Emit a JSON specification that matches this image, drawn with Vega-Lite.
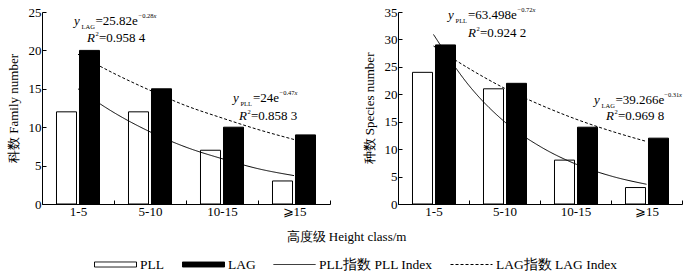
{
  "$schema": "https://vega.github.io/schema/vega-lite/v6.json",
  "padding": {"left": 7, "top": 6, "right": 0, "bottom": 0},
  "background": "white",
  "spacing": 68,
  "bounds": "flush",
  "datasets": {
    "famBars": [
      {"cat": "1-5", "series": "PLL", "v": 12},
      {"cat": "1-5", "series": "LAG", "v": 20},
      {"cat": "5-10", "series": "PLL", "v": 12},
      {"cat": "5-10", "series": "LAG", "v": 15},
      {"cat": "10-15", "series": "PLL", "v": 7},
      {"cat": "10-15", "series": "LAG", "v": 10},
      {"cat": "⩾15", "series": "PLL", "v": 3},
      {"cat": "⩾15", "series": "LAG", "v": 9}
    ],
    "spBars": [
      {"cat": "1-5", "series": "PLL", "v": 24},
      {"cat": "1-5", "series": "LAG", "v": 29},
      {"cat": "5-10", "series": "PLL", "v": 21},
      {"cat": "5-10", "series": "LAG", "v": 22},
      {"cat": "10-15", "series": "PLL", "v": 8},
      {"cat": "10-15", "series": "LAG", "v": 14},
      {"cat": "⩾15", "series": "PLL", "v": 3},
      {"cat": "⩾15", "series": "LAG", "v": 12}
    ],
    "famCurves": [
      {"series": "PLL指数 PLL Index", "pos": 0.5, "v": 15.0},
      {"series": "PLL指数 PLL Index", "pos": 1.0, "v": 11.9},
      {"series": "PLL指数 PLL Index", "pos": 1.5, "v": 9.4},
      {"series": "PLL指数 PLL Index", "pos": 2.0, "v": 7.4},
      {"series": "PLL指数 PLL Index", "pos": 2.5, "v": 5.9},
      {"series": "PLL指数 PLL Index", "pos": 3.0, "v": 4.6},
      {"series": "PLL指数 PLL Index", "pos": 3.5, "v": 3.7},
      {"series": "LAG指数 LAG Index", "pos": 0.5, "v": 19.5},
      {"series": "LAG指数 LAG Index", "pos": 1.0, "v": 17.0},
      {"series": "LAG指数 LAG Index", "pos": 1.5, "v": 14.8},
      {"series": "LAG指数 LAG Index", "pos": 2.0, "v": 12.8},
      {"series": "LAG指数 LAG Index", "pos": 2.5, "v": 11.2},
      {"series": "LAG指数 LAG Index", "pos": 3.0, "v": 9.7},
      {"series": "LAG指数 LAG Index", "pos": 3.5, "v": 8.4}
    ],
    "spCurves": [
      {"series": "PLL指数 PLL Index", "pos": 0.5, "v": 30.9},
      {"series": "PLL指数 PLL Index", "pos": 1.0, "v": 21.6},
      {"series": "PLL指数 PLL Index", "pos": 1.5, "v": 15.0},
      {"series": "PLL指数 PLL Index", "pos": 2.0, "v": 10.5},
      {"series": "PLL指数 PLL Index", "pos": 2.5, "v": 7.3},
      {"series": "PLL指数 PLL Index", "pos": 3.0, "v": 5.1},
      {"series": "PLL指数 PLL Index", "pos": 3.5, "v": 3.6},
      {"series": "LAG指数 LAG Index", "pos": 0.5, "v": 28.8},
      {"series": "LAG指数 LAG Index", "pos": 1.0, "v": 24.7},
      {"series": "LAG指数 LAG Index", "pos": 1.5, "v": 21.1},
      {"series": "LAG指数 LAG Index", "pos": 2.0, "v": 18.1},
      {"series": "LAG指数 LAG Index", "pos": 2.5, "v": 15.5},
      {"series": "LAG指数 LAG Index", "pos": 3.0, "v": 13.3},
      {"series": "LAG指数 LAG Index", "pos": 3.5, "v": 11.4}
    ],
    "famText": [
      {"k": "mi", "pos": 0.444, "v": 23.27, "t": "y"},
      {"k": "mi", "pos": 0.625, "v": 21.1, "t": "R"},
      {"k": "mi", "pos": 2.653, "v": 13.26, "t": "y"},
      {"k": "mi", "pos": 2.736, "v": 10.96, "t": "R"},
      {"k": "m", "pos": 0.743, "v": 23.27, "t": "=25.82e"},
      {"k": "m", "pos": 0.792, "v": 21.1, "t": "=0.958 4"},
      {"k": "m", "pos": 2.931, "v": 13.26, "t": "=24e"},
      {"k": "m", "pos": 2.903, "v": 10.96, "t": "=0.858 3"},
      {"k": "s", "pos": 0.549, "v": 22.8, "t": "LAG"},
      {"k": "s", "pos": 1.340, "v": 24.18, "t": "−0.28"},
      {"k": "s", "pos": 0.743, "v": 21.9, "t": "2"},
      {"k": "s", "pos": 2.757, "v": 12.79, "t": "PLL"},
      {"k": "s", "pos": 3.299, "v": 14.17, "t": "−0.47"},
      {"k": "s", "pos": 2.854, "v": 11.76, "t": "2"},
      {"k": "si", "pos": 1.549, "v": 24.18, "t": "x"},
      {"k": "si", "pos": 3.507, "v": 14.17, "t": "x"}
    ],
    "spText": [
      {"k": "mi", "pos": 0.704, "v": 33.67, "t": "y"},
      {"k": "mi", "pos": 0.986, "v": 30.46, "t": "R"},
      {"k": "mi", "pos": 2.761, "v": 18.2, "t": "y"},
      {"k": "mi", "pos": 2.930, "v": 15.35, "t": "R"},
      {"k": "m", "pos": 0.986, "v": 33.67, "t": "=63.498e"},
      {"k": "m", "pos": 1.155, "v": 30.46, "t": "=0.924 2"},
      {"k": "m", "pos": 3.063, "v": 18.2, "t": "=39.266e"},
      {"k": "m", "pos": 3.099, "v": 15.35, "t": "=0.969 8"},
      {"k": "s", "pos": 0.810, "v": 33.0, "t": "PLL"},
      {"k": "s", "pos": 1.683, "v": 34.94, "t": "−0.72"},
      {"k": "s", "pos": 1.106, "v": 31.55, "t": "2"},
      {"k": "s", "pos": 2.866, "v": 17.53, "t": "LAG"},
      {"k": "s", "pos": 3.750, "v": 19.47, "t": "−0.31"},
      {"k": "s", "pos": 3.049, "v": 16.44, "t": "2"},
      {"k": "si", "pos": 1.894, "v": 34.94, "t": "x"},
      {"k": "si", "pos": 3.958, "v": 19.47, "t": "x"}
    ]
  },
  "hconcat": [
    {
      "width": 288,
      "height": 192,
      "encoding": {
        "y": {
          "field": "v", "type": "quantitative",
          "scale": {"domain": [0, 25], "nice": false},
          "axis": {"title": "科数 Family number", "values": [0, 5, 10, 15, 20, 25], "titlePadding": 8}
        }
      },
      "layer": [
        {
          "data": {"name": "famBars"},
          "mark": {"type": "bar", "stroke": "black", "strokeWidth": 1},
          "encoding": {
            "x": {
              "field": "cat", "type": "nominal",
              "scale": {"domain": ["1-5", "5-10", "10-15", "⩾15"], "paddingInner": 0, "paddingOuter": 0},
              "axis": {"title": "高度级  Height class/m", "titleX": 304, "titleY": 36, "titleAnchor": null, "titleAlign": "center", "titleBaseline": "alphabetic", "tickBand": "extent", "labelAngle": 0}
            },
            "xOffset": {"field": "series", "type": "nominal", "scale": {"domain": ["PLL", "LAG"], "paddingInner": 0.13, "paddingOuter": 0.63}},
            "color": {
              "field": "series", "type": "nominal",
              "scale": {"domain": ["PLL", "LAG", "PLL指数 PLL Index", "LAG指数 LAG Index"], "range": ["#ffffff", "#000000", "#000000", "#000000"]},
              "legend": {
                "title": null, "orient": "none", "legendX": 52, "legendY": 231, "direction": "horizontal",
                "symbolSize": 1764, "symbolStrokeWidth": 1, "symbolStrokeColor": "#000000", "symbolOpacity": 1,
                "symbolType": {"expr": "(datum.value === 'PLL' || datum.value === 'LAG') ? 'M-1,-0.12H1V0.12H-1Z' : 'M-1,0H1'"},
                "symbolDash": {"expr": "datum.value === 'LAG指数 LAG Index' ? [3, 2] : [1, 0]"},
                "labelOffset": 3, "columnPadding": 15,
                "labelFont": "Liberation Serif", "labelFontSize": 13.5, "labelColor": "black", "labelLimit": 300
              }
            }
          }
        },
        {
          "data": {"name": "famCurves"},
          "mark": {"type": "line", "interpolate": "monotone", "strokeWidth": 1, "color": "black"},
          "encoding": {
            "x": {"field": "pos", "type": "quantitative", "scale": {"domain": [0, 4], "nice": false, "zero": false}, "axis": null},
            "detail": {"field": "series", "type": "nominal"},
            "strokeDash": {"field": "series", "type": "nominal", "scale": {"domain": ["PLL指数 PLL Index", "LAG指数 LAG Index"], "range": [[1, 0], [3, 2]]}, "legend": null}
          }
        },
        {
          "data": {"name": "famText"},
          "transform": [{"filter": "datum.k === 'mi'"}],
          "mark": {"type": "text", "align": "left", "baseline": "alphabetic", "font": "Liberation Serif", "fontSize": 13, "fontStyle": "italic", "color": "black"},
          "encoding": {"x": {"field": "pos", "type": "quantitative", "scale": {"domain": [0, 4], "nice": false, "zero": false}, "axis": null}, "text": {"field": "t"}}
        },
        {
          "data": {"name": "famText"},
          "transform": [{"filter": "datum.k === 'm'"}],
          "mark": {"type": "text", "align": "left", "baseline": "alphabetic", "font": "Liberation Serif", "fontSize": 13, "color": "black"},
          "encoding": {"x": {"field": "pos", "type": "quantitative", "scale": {"domain": [0, 4], "nice": false, "zero": false}, "axis": null}, "text": {"field": "t"}}
        },
        {
          "data": {"name": "famText"},
          "transform": [{"filter": "datum.k === 's'"}],
          "mark": {"type": "text", "align": "left", "baseline": "alphabetic", "font": "Liberation Serif", "fontSize": 6.5, "color": "black"},
          "encoding": {"x": {"field": "pos", "type": "quantitative", "scale": {"domain": [0, 4], "nice": false, "zero": false}, "axis": null}, "text": {"field": "t"}}
        },
        {
          "data": {"name": "famText"},
          "transform": [{"filter": "datum.k === 'si'"}],
          "mark": {"type": "text", "align": "left", "baseline": "alphabetic", "font": "Liberation Serif", "fontSize": 6.5, "fontStyle": "italic", "color": "black"},
          "encoding": {"x": {"field": "pos", "type": "quantitative", "scale": {"domain": [0, 4], "nice": false, "zero": false}, "axis": null}, "text": {"field": "t"}}
        }
      ],
      "resolve": {"scale": {"x": "independent"}, "axis": {"x": "independent"}}
    },
    {
      "width": 284,
      "height": 192,
      "encoding": {
        "y": {
          "field": "v", "type": "quantitative",
          "scale": {"domain": [0, 35], "nice": false},
          "axis": {"title": "种数 Species number", "values": [0, 5, 10, 15, 20, 25, 30, 35], "titlePadding": 8}
        }
      },
      "layer": [
        {
          "data": {"name": "spBars"},
          "mark": {"type": "bar", "stroke": "black", "strokeWidth": 1},
          "encoding": {
            "x": {
              "field": "cat", "type": "nominal",
              "scale": {"domain": ["1-5", "5-10", "10-15", "⩾15"], "paddingInner": 0, "paddingOuter": 0},
              "axis": {"title": null, "tickBand": "extent", "labelAngle": 0}
            },
            "xOffset": {"field": "series", "type": "nominal", "scale": {"domain": ["PLL", "LAG"], "paddingInner": 0.13, "paddingOuter": 0.63}},
            "color": {
              "field": "series", "type": "nominal",
              "legend": {
                "title": null, "orient": "none", "legendX": 52, "legendY": 231, "direction": "horizontal",
                "symbolSize": 1764, "symbolStrokeWidth": 1, "symbolStrokeColor": "#000000", "symbolOpacity": 1,
                "symbolType": {"expr": "(datum.value === 'PLL' || datum.value === 'LAG') ? 'M-1,-0.12H1V0.12H-1Z' : 'M-1,0H1'"},
                "symbolDash": {"expr": "datum.value === 'LAG指数 LAG Index' ? [3, 2] : [1, 0]"},
                "labelOffset": 3, "columnPadding": 15,
                "labelFont": "Liberation Serif", "labelFontSize": 13.5, "labelColor": "black", "labelLimit": 300
              }
            }
          }
        },
        {
          "data": {"name": "spCurves"},
          "mark": {"type": "line", "interpolate": "monotone", "strokeWidth": 1, "color": "black"},
          "encoding": {
            "x": {"field": "pos", "type": "quantitative", "scale": {"domain": [0, 4], "nice": false, "zero": false}, "axis": null},
            "detail": {"field": "series", "type": "nominal"},
            "strokeDash": {"field": "series", "type": "nominal", "scale": {"domain": ["PLL指数 PLL Index", "LAG指数 LAG Index"], "range": [[1, 0], [3, 2]]}, "legend": null}
          }
        },
        {
          "data": {"name": "spText"},
          "transform": [{"filter": "datum.k === 'mi'"}],
          "mark": {"type": "text", "align": "left", "baseline": "alphabetic", "font": "Liberation Serif", "fontSize": 13, "fontStyle": "italic", "color": "black"},
          "encoding": {"x": {"field": "pos", "type": "quantitative", "scale": {"domain": [0, 4], "nice": false, "zero": false}, "axis": null}, "text": {"field": "t"}}
        },
        {
          "data": {"name": "spText"},
          "transform": [{"filter": "datum.k === 'm'"}],
          "mark": {"type": "text", "align": "left", "baseline": "alphabetic", "font": "Liberation Serif", "fontSize": 13, "color": "black"},
          "encoding": {"x": {"field": "pos", "type": "quantitative", "scale": {"domain": [0, 4], "nice": false, "zero": false}, "axis": null}, "text": {"field": "t"}}
        },
        {
          "data": {"name": "spText"},
          "transform": [{"filter": "datum.k === 's'"}],
          "mark": {"type": "text", "align": "left", "baseline": "alphabetic", "font": "Liberation Serif", "fontSize": 6.5, "color": "black"},
          "encoding": {"x": {"field": "pos", "type": "quantitative", "scale": {"domain": [0, 4], "nice": false, "zero": false}, "axis": null}, "text": {"field": "t"}}
        },
        {
          "data": {"name": "spText"},
          "transform": [{"filter": "datum.k === 'si'"}],
          "mark": {"type": "text", "align": "left", "baseline": "alphabetic", "font": "Liberation Serif", "fontSize": 6.5, "fontStyle": "italic", "color": "black"},
          "encoding": {"x": {"field": "pos", "type": "quantitative", "scale": {"domain": [0, 4], "nice": false, "zero": false}, "axis": null}, "text": {"field": "t"}}
        }
      ],
      "resolve": {"scale": {"x": "independent"}, "axis": {"x": "independent"}}
    }
  ],
  "config": {
    "view": {"stroke": null},
    "axis": {
      "grid": false,
      "domainColor": "black",
      "domainWidth": 1,
      "tickColor": "black",
      "tickSize": -4,
      "labelPadding": 5,
      "labelFont": "Liberation Serif",
      "labelFontSize": 13,
      "labelColor": "black",
      "titleFont": "Liberation Serif",
      "titleFontSize": 13,
      "titleFontWeight": "normal",
      "titleColor": "black"
    }
  }
}
